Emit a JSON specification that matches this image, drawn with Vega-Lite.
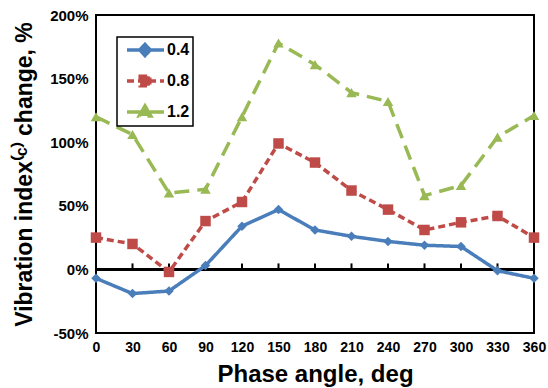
{
  "$schema": "https://vega.github.io/schema/vega-lite/v6.json",
  "width": 438,
  "height": 318,
  "autosize": {"type": "none"},
  "padding": {"left": 96, "top": 15, "right": 14, "bottom": 55},
  "config": {
    "view": {"stroke": "#000", "strokeWidth": 2},
    "font": "Liberation Sans",
    "axis": {"grid": false, "labelColor": "#000", "titleColor": "#000"}
  },
  "data": {
    "values": [
      {"angle": 0, "series": "0.4", "value": -7},
      {"angle": 30, "series": "0.4", "value": -19},
      {"angle": 60, "series": "0.4", "value": -17},
      {"angle": 90, "series": "0.4", "value": 3},
      {"angle": 120, "series": "0.4", "value": 34},
      {"angle": 150, "series": "0.4", "value": 47},
      {"angle": 180, "series": "0.4", "value": 31},
      {"angle": 210, "series": "0.4", "value": 26},
      {"angle": 240, "series": "0.4", "value": 22},
      {"angle": 270, "series": "0.4", "value": 19},
      {"angle": 300, "series": "0.4", "value": 18},
      {"angle": 330, "series": "0.4", "value": -1},
      {"angle": 360, "series": "0.4", "value": -7},
      {"angle": 0, "series": "0.8", "value": 25},
      {"angle": 30, "series": "0.8", "value": 20},
      {"angle": 60, "series": "0.8", "value": -2},
      {"angle": 90, "series": "0.8", "value": 38},
      {"angle": 120, "series": "0.8", "value": 53},
      {"angle": 150, "series": "0.8", "value": 99},
      {"angle": 180, "series": "0.8", "value": 84},
      {"angle": 210, "series": "0.8", "value": 62},
      {"angle": 240, "series": "0.8", "value": 47},
      {"angle": 270, "series": "0.8", "value": 31},
      {"angle": 300, "series": "0.8", "value": 37},
      {"angle": 330, "series": "0.8", "value": 42},
      {"angle": 360, "series": "0.8", "value": 25},
      {"angle": 0, "series": "1.2", "value": 120},
      {"angle": 30, "series": "1.2", "value": 106},
      {"angle": 60, "series": "1.2", "value": 60},
      {"angle": 90, "series": "1.2", "value": 63},
      {"angle": 120, "series": "1.2", "value": 120},
      {"angle": 150, "series": "1.2", "value": 178},
      {"angle": 180, "series": "1.2", "value": 161},
      {"angle": 210, "series": "1.2", "value": 139},
      {"angle": 240, "series": "1.2", "value": 132},
      {"angle": 270, "series": "1.2", "value": 58},
      {"angle": 300, "series": "1.2", "value": 66},
      {"angle": 330, "series": "1.2", "value": 104},
      {"angle": 360, "series": "1.2", "value": 121}
    ]
  },
  "resolve": {"axis": {"x": "independent"}},
  "layer": [
    {
      "mark": {"type": "rule", "color": "#000", "strokeWidth": 2},
      "encoding": {
        "y": {"datum": 0, "type": "quantitative"}
      }
    },
    {
      "mark": {"type": "line", "strokeWidth": 3.5},
      "encoding": {
        "x": {
          "field": "angle", "type": "quantitative",
          "scale": {"domain": [0, 360], "nice": false, "zero": false},
          "axis": {
            "orient": "bottom",
            "values": [0, 30, 60, 90, 120, 150, 180, 210, 240, 270, 300, 330, 360],
            "domain": false, "ticks": false, "labelOverlap": false,
            "labelFontSize": 14, "labelFontWeight": "bold", "labelPadding": 7,
            "labelFlush": false,
            "title": "Phase angle, deg", "titleFontSize": 24, "titleFontWeight": "bold", "titlePadding": 8
          }
        },
        "y": {
          "field": "value", "type": "quantitative",
          "scale": {"domain": [-50, 200], "nice": false},
          "axis": {
            "values": [-50, 0, 50, 100, 150, 200],
            "labelExpr": "datum.value + '%'",
            "domain": false, "ticks": false,
            "labelFontSize": 15, "labelFontWeight": "bold", "labelPadding": 8,
            "title": "Vibration index⁽ᶜ⁾ change, %", "titleFontSize": 23, "titleFontWeight": "bold", "titlePadding": 13
          }
        },
        "color": {
          "field": "series", "type": "nominal",
          "scale": {"domain": ["0.4", "0.8", "1.2"], "range": ["#4A7EBB", "#BE4B48", "#98B954"]},
          "legend": {
            "orient": "none", "legendX": 21, "legendY": 22,
            "title": null,
            "strokeColor": "#000", "fillColor": "#fff", "padding": 3,
            "labelFontSize": 16, "labelFontWeight": "bold", "labelColor": "#000",
            "symbolSize": 256, "rowPadding": 6, "labelOffset": 27,
            "encode": {
              "legend": {"update": {"strokeWidth": {"value": 1.5}}},
              "symbols": {
                "update": {
                  "shape": {"signal": "datum.value == '0.4' ? 'M-0.375,0L4.25,0M1.875,-0.7L2.525,0L1.875,0.7L1.225,0Z' : datum.value == '0.8' ? 'M-0.375,0L4.25,0M1.275,-0.6L2.475,-0.6L2.475,0.6L1.275,0.6Z' : 'M-0.375,0L4.25,0M1.875,-0.75L2.6,0.5L1.15,0.5Z'"},
                  "strokeDash": {"signal": "datum.value == '0.4' ? [1,0] : datum.value == '0.8' ? [6,3] : [12,6]"},
                  "strokeWidth": {"value": 3.5},
                  "fill": {"signal": "datum.value == '0.4' ? '#4A7EBB' : datum.value == '0.8' ? '#BE4B48' : '#98B954'"},
                  "stroke": {"signal": "datum.value == '0.4' ? '#4A7EBB' : datum.value == '0.8' ? '#BE4B48' : '#98B954'"},
                  "fillOpacity": {"value": 1},
                  "opacity": {"value": 1}
                }
              }
            }
          }
        },
        "strokeDash": {
          "field": "series", "type": "nominal",
          "scale": {"domain": ["0.4", "0.8", "1.2"], "range": [[1, 0], [7, 4], [15, 8]]},
          "legend": null
        }
      }
    },
    {
      "transform": [{"filter": "datum.series == '0.4'"}],
      "mark": {"type": "tick", "orient": "vertical", "size": 6, "thickness": 2, "yOffset": -3, "color": "#000", "opacity": 1},
      "encoding": {
        "x": {"field": "angle", "type": "quantitative", "axis": null},
        "y": {"datum": 0, "type": "quantitative"}
      }
    },
    {
      "transform": [{"filter": "datum.series == '0.4'"}],
      "mark": {"type": "point", "shape": "diamond", "filled": true, "opacity": 1, "size": 90},
      "encoding": {
        "x": {"field": "angle", "type": "quantitative", "axis": null},
        "y": {"field": "value", "type": "quantitative"},
        "color": {"field": "series", "type": "nominal", "legend": null}
      }
    },
    {
      "transform": [{"filter": "datum.series == '0.8'"}],
      "mark": {"type": "point", "shape": "square", "filled": true, "opacity": 1, "size": 110},
      "encoding": {
        "x": {"field": "angle", "type": "quantitative", "axis": null},
        "y": {"field": "value", "type": "quantitative"},
        "color": {"field": "series", "type": "nominal", "legend": null}
      }
    },
    {
      "transform": [{"filter": "datum.series == '1.2'"}],
      "mark": {"type": "point", "shape": "triangle-up", "filled": true, "opacity": 1, "size": 110},
      "encoding": {
        "x": {"field": "angle", "type": "quantitative", "axis": null},
        "y": {"field": "value", "type": "quantitative"},
        "color": {"field": "series", "type": "nominal", "legend": null}
      }
    }
  ]
}
